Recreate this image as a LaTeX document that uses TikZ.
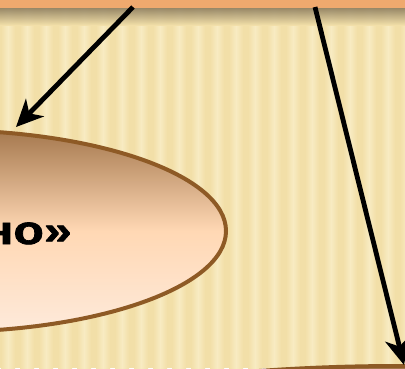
\documentclass[tikz,border=0pt]{standalone}
\usepackage{fontspec}
\setmainfont{Liberation Sans}
\newfontfamily\heavyfont{Liberation Sans Bold}[FakeBold=1.6]
\usetikzlibrary{arrows.meta}
\definecolor{bgA}{HTML}{F2DFA8}
\definecolor{bgB}{HTML}{F8EBC2}
\definecolor{barC}{HTML}{EFA96E}
\definecolor{shadowC}{HTML}{8F7F60}
\definecolor{rimC}{HTML}{8E5A25}
\definecolor{topC}{HTML}{A5784E}
\definecolor{midC}{HTML}{FFD8B4}
\definecolor{botC}{HTML}{FEEADB}
\tikzset{
  bigarrow/.style={line width=4.8pt, draw=black, -{Stealth[length=27pt, width=25pt, inset=8pt]}},
  oval/.style={draw=rimC, line width=4pt, top color=topC, bottom color=botC, middle color=midC},
  lbl/.style={font=\heavyfont\bfseries\fontsize{40pt}{40pt}\selectfont, text=black, inner sep=0pt, xscale=1.25}
}
\begin{document}
\begin{tikzpicture}[x=1pt,y=-1pt]
\useasboundingbox (0,0) rectangle (405,368);
\clip (0,0) rectangle (405,368);
% background
\fill[bgA] (0,0) rectangle (405,368);
\foreach \i in {0,...,21} {
  \shade[left color=bgA, right color=bgA, middle color=bgB] ({\i*19+1},0) rectangle ({\i*19+15},368);
}
% shadow under bar
\shade[top color=shadowC, bottom color=bgA, opacity=0.9] (0,8) rectangle (405,25);
% top bar
\fill[barC] (0,0) rectangle (405,8);
% ellipses
\draw[oval] (-60,231) ellipse [x radius=286, y radius=101];
\draw[oval] (400,466) ellipse [x radius=450, y radius=100];
\node[lbl, anchor=base east] (t) at (72,244) {но»};
% arrows
\coordinate (s1) at (133,7);
\coordinate (e1) at (16,127);
\coordinate (s2) at (315,7);
\coordinate (e2) at (404,365);
\draw[bigarrow] (s1) -- (e1);
\draw[bigarrow] (s2) -- (e2);
\end{tikzpicture}
\end{document}
